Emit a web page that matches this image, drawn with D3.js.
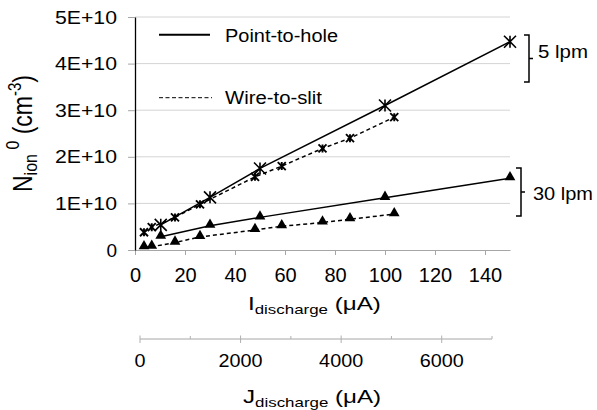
<!DOCTYPE html>
<html><head><meta charset="utf-8">
<script src="https://cdn.jsdelivr.net/npm/d3@7"></script>
<style>
body{margin:0;background:#fff;}
svg text{font-family:"Liberation Sans",Arial,sans-serif;fill:#000;}
</style></head>
<body><svg id="c" width="597" height="410"></svg>
<script>
// ---- data ----
const pthX5 = [10.3, 30, 50, 100, 150];
const pthY5 = [5.4e9, 11.3e9, 17.5e9, 31.0e9, 44.7e9];
const wtsX5 = [3.6, 6.7, 16, 26, 48, 58.7, 75, 86, 103.7];
const wtsY5 = [3.8e9, 4.9e9, 7.0e9, 9.8e9, 15.7e9, 18.0e9, 21.8e9, 24.0e9, 28.5e9];
const pthX30 = [10.3, 30, 50, 100, 150];
const pthY30 = [2.85e9, 5.2e9, 7.0e9, 11.2e9, 15.4e9];
const wtsX30 = [3.6, 6.7, 16, 26, 48, 58.7, 75, 86, 103.7];
const wtsY30 = [0.6e9, 0.7e9, 1.6e9, 2.8e9, 4.3e9, 5.1e9, 5.9e9, 6.6e9, 7.7e9];
const xTicks = [0, 20, 40, 60, 80, 100, 120, 140];
const yTicks = [0, 1e10, 2e10, 3e10, 4e10, 5e10];
const yTickLabels = ["0", "1E+10", "2E+10", "3E+10", "4E+10", "5E+10"];
const jMajor = [0, 2000, 4000, 6000];
const jMinor = [1000, 3000, 5000, 7000];
const legendLabels = ["Point-to-hole", "Wire-to-slit"];
const flowLabels = ["5 lpm", "30 lpm"];

const svg = d3.select("#c");
const x = d3.scaleLinear().domain([0, 150]).range([135, 510]);
const y = d3.scaleLinear().domain([0, 5e10]).range([250, 17]);
const j = d3.scaleLinear().domain([0, 7000]).range([140, 492]);

// gridlines
svg.append("g").selectAll("line").data(yTicks.slice(1)).join("line")
  .attr("x1", 135).attr("x2", 510).attr("y1", d => y(d)).attr("y2", d => y(d))
  .attr("stroke", "#d4d4d4").attr("stroke-width", 1);

// x axis
const gx = svg.append("g").attr("transform", "translate(0,250)")
  .call(d3.axisBottom(x).tickValues(xTicks).tickSize(5).tickSizeOuter(0).tickPadding(13));
gx.select(".domain").attr("stroke", "#a6a6a6");
gx.selectAll(".tick line").attr("stroke", "#a6a6a6");
gx.selectAll(".tick text").attr("font-size", 20).attr("font-family", "Liberation Sans, Arial").attr("fill", "#000");

// y axis
const gy = svg.append("g").attr("transform", "translate(135,0)")
  .call(d3.axisLeft(y).tickValues(yTicks).tickFormat((d, i) => yTickLabels[i]).tickSize(7).tickSizeOuter(0).tickPadding(11));
gy.select(".domain").attr("stroke", "#000").attr("stroke-width", 1.3);
gy.selectAll(".tick line").attr("stroke", "#a6a6a6");
gy.selectAll(".tick text").attr("font-size", 19).attr("font-family", "Liberation Sans, Arial").attr("fill", "#000")
  .attr("textLength", d => d === 0 ? null : 62).attr("lengthAdjust", "spacingAndGlyphs");

// secondary J axis
const gj = svg.append("g").attr("transform", "translate(0,339)");
gj.append("line").attr("x1", j(0)).attr("x2", j(7000)).attr("y1", 0).attr("y2", 0).attr("stroke", "#a6a6a6");
gj.selectAll(".maj").data(jMajor).join("line").attr("class", "maj")
  .attr("x1", d => j(d)).attr("x2", d => j(d)).attr("y1", -3.5).attr("y2", 4).attr("stroke", "#b0b0b0");
gj.selectAll(".min").data(jMinor).join("line").attr("class", "min")
  .attr("x1", d => j(d)).attr("x2", d => j(d)).attr("y1", -3).attr("y2", 0).attr("stroke", "#b0b0b0");
gj.selectAll("text").data(jMajor).join("text")
  .attr("x", d => j(d)).attr("y", 28).attr("text-anchor", "middle").attr("font-size", 18)
  .attr("transform", d => `translate(${j(d)},0) scale(1.1,1) translate(${-j(d)},0)`).text(d => d);

// lines
function series(xs, ys, dashed) {
  const pts = xs.map((v, i) => [x(v), y(ys[i])]);
  svg.append("path").attr("d", d3.line()(pts)).attr("fill", "none").attr("stroke", "#000")
    .attr("stroke-width", 1.5).attr("stroke-dasharray", dashed ? "4,3" : null);
  return pts;
}
function asterisks(pts, r, w) {
  const g = svg.append("g").attr("stroke", "#000").attr("stroke-width", w);
  pts.forEach(([px, py]) => {
    g.append("path").attr("d",
      `M${px - r},${py - r}L${px + r},${py + r}M${px - r},${py + r}L${px + r},${py - r}M${px},${py - r}L${px},${py + r}`);
  });
}
const tri = d3.symbol().type(d3.symbolTriangle).size(50);
function triangles(pts) {
  svg.append("g").selectAll("path").data(pts).join("path")
    .attr("d", tri).attr("transform", d => `translate(${d[0]},${d[1] - 1})`).attr("fill", "#000");
}
const p1 = series(wtsX5, wtsY5, true);
const p2 = series(pthX5, pthY5, false);
const p3 = series(wtsX30, wtsY30, true);
const p4 = series(pthX30, pthY30, false);
asterisks(p1, 4, 1.9);
asterisks(p2, 6, 1.6);
triangles(p3);
triangles(p4);

// legend
const lg = svg.append("g");
lg.append("line").attr("x1", 159).attr("x2", 210).attr("y1", 34.7).attr("y2", 34.7).attr("stroke", "#000").attr("stroke-width", 2);
lg.append("line").attr("x1", 159).attr("x2", 212).attr("y1", 97.7).attr("y2", 97.7).attr("stroke", "#000").attr("stroke-width", 1).attr("stroke-dasharray", "4,2.5");
lg.selectAll("text").data(legendLabels).join("text")
  .attr("x", 225).attr("y", (d, i) => i === 0 ? 41.7 : 104.3)
  .attr("font-family", "Open Sans").attr("font-size", 18)
  .attr("textLength", (d, i) => i === 0 ? 113 : 97).attr("lengthAdjust", "spacingAndGlyphs").text(d => d);

// flow brackets
function bracket(xv, y0, y1, label, tx, ty, len) {
  const ym = (y0 + y1) / 2;
  svg.append("path").attr("d", `M${xv - 5},${y0}H${xv}V${y1}H${xv - 5}M${xv},${ym}H${xv + 4}`)
    .attr("fill", "none").attr("stroke", "#000").attr("stroke-width", 1.5);
  svg.append("text").attr("x", tx).attr("y", ty).attr("font-size", 19)
    .attr("textLength", len).attr("lengthAdjust", "spacingAndGlyphs").text(label);
}
bracket(529, 35, 82, flowLabels[0], 538, 57.5, 50);
bracket(521, 168, 216, flowLabels[1], 533, 200, 60);

// axis titles (horizontally stretched like the reference)
function hTitle(letter, tx, ty) {
  const g = svg.append("g").attr("transform", `translate(${tx},${ty}) scale(1.3,1)`);
  const t = g.append("text").attr("x", 0).attr("y", 0).attr("font-size", 18.6);
  t.append("tspan").text(letter);
  t.append("tspan").attr("font-size", 13).attr("dy", 4).text("discharge");
  t.append("tspan").attr("dy", -4).text(" (μA)");
}
hTitle("I", 248, 310);
hTitle("J", 243, 403);

const tn = svg.append("text").attr("transform", "translate(32,192) scale(1.2,1) rotate(-90)").attr("font-size", 23);
tn.append("tspan").text("N");
tn.append("tspan").attr("font-size", 16).attr("dy", 4).text("ion");
tn.append("tspan").attr("font-size", 16).attr("dy", -15).text("  0");
tn.append("tspan").attr("dy", 11).text(" (cm");
tn.append("tspan").attr("font-size", 15).attr("dy", -9).text("-3");
tn.append("tspan").attr("dy", 9).text(")");
</script></body></html>
